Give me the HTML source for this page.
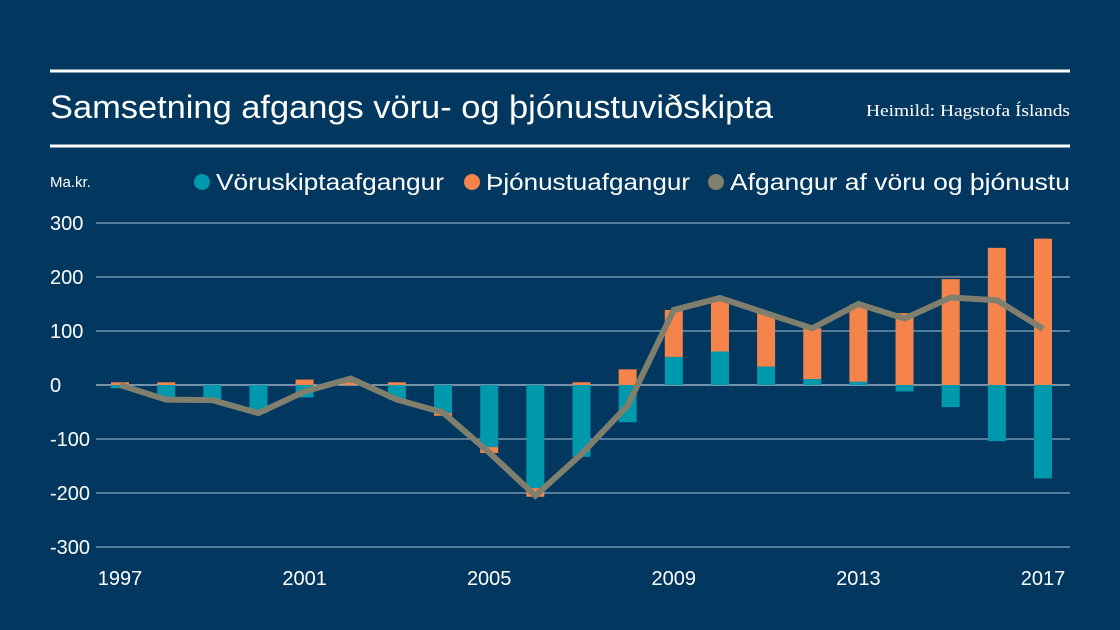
<!DOCTYPE html>
<html><head><meta charset="utf-8"><style>
body{margin:0;background:#02385f;}
svg{display:block;font-family:"Liberation Sans",sans-serif;}
</style></head><body>
<svg width="1120" height="630">
<rect width="1120" height="630" fill="#02385f"/>
<line x1="50" x2="1070" y1="71" y2="71" stroke="#fff" stroke-width="3"/>
<line x1="50" x2="1070" y1="146" y2="146" stroke="#fff" stroke-width="3"/>
<text x="50" y="118" fill="#fff" font-size="32" textLength="723" lengthAdjust="spacingAndGlyphs">Samsetning afgangs vöru- og þjónustuviðskipta</text>
<text x="866" y="116" fill="#fff" font-size="17" textLength="204" lengthAdjust="spacingAndGlyphs" font-family="Liberation Serif,serif">Heimild: Hagstofa Íslands</text>
<text x="50" y="187" fill="#fff" font-size="15">Ma.kr.</text>
<g>
<circle cx="202" cy="182" r="8" fill="#0098ad"/>
<text x="216" y="190" fill="#fff" font-size="23" textLength="228" lengthAdjust="spacingAndGlyphs">Vöruskiptaafgangur</text>
<circle cx="472" cy="182" r="8" fill="#f4844a"/>
<text x="486" y="190" fill="#fff" font-size="23" textLength="204" lengthAdjust="spacingAndGlyphs">Þjónustuafgangur</text>
<circle cx="716" cy="182" r="8" fill="#807f6e"/>
<text x="730" y="190" fill="#fff" font-size="23" textLength="340" lengthAdjust="spacingAndGlyphs">Afgangur af vöru og þjónustu</text>
</g>
<g id="grid"></g><g id="bars"></g><g id="line"></g><g id="xlabels"></g>
</svg>
<script>
const years=[1997,1998,1999,2000,2001,2002,2003,2004,2005,2006,2007,2008,2009,2010,2011,2012,2013,2014,2015,2016,2017];
const goods=[-6,-28,-28,-52,-23,0,-27,-52,-115,-191,-133,-69,52,62,34,11,6,-12,-41,-104,-173];
const services=[5,5,0,0,10,5,5,-5,-11,-16,5,29,87,94,99,94,143,133,196,254,271];
const total=[0,-27,-28,-52,-12,12,-27,-51,-125,-205,-128,-38,139,161,133,105,150,123,162,157,104];
const yTicks=[300,200,100,0,-100,-200,-300];
const xTickYears=[1997,2001,2005,2009,2013,2017];
const NS="http://www.w3.org/2000/svg";
const y=v=>385-v*0.54;
const x=yr=>120+(yr-1997)*46.15;
function mk(t,a,p){const e=document.createElementNS(NS,t);for(const k in a)e.setAttribute(k,a[k]);p.appendChild(e);return e;}
const g=document.getElementById('grid');
yTicks.forEach(v=>{
 const l=mk('line',{x1:96,x2:1070,y1:y(v),y2:y(v),stroke:v===0?'#e6eef5':'#a9c0d6','stroke-width':1},g);
 
 
 const t=mk('text',{x:50,y:y(v)+7,fill:'#fff','font-size':20},g);
 t.textContent=v;
 
 
});
const b=document.getElementById('bars');const bw=18;
years.forEach((yr,i)=>{
 let pos=0,neg=0;
 [[goods[i],'#0098ad','bar-goods'],[services[i],'#f4844a','bar-services']].forEach(([v,c,n])=>{
  let y0,y1;
  if(v>=0){y0=pos;y1=pos+v;pos=y1;}else{y0=neg;y1=neg+v;neg=y1;}
  const top=Math.min(y(y0),y(y1)),h=Math.abs(y(y1)-y(y0));
  const r=mk('rect',{x:x(yr)-bw/2,y:top,width:bw,height:h,fill:c},b);
  
  
 });
});
const pl=mk('polyline',{points:years.map((yr,i)=>x(yr)+','+y(total[i])).join(' '),fill:'none',stroke:'#807f6e','stroke-width':6,'stroke-linejoin':'miter'},document.getElementById('line'));


const xl=document.getElementById('xlabels');
xTickYears.forEach(yr=>{
 const t=mk('text',{x:x(yr),y:585,fill:'#fff','font-size':20,'text-anchor':'middle'},xl);
 t.textContent=yr;
 
 
});
</script>
</body></html>
